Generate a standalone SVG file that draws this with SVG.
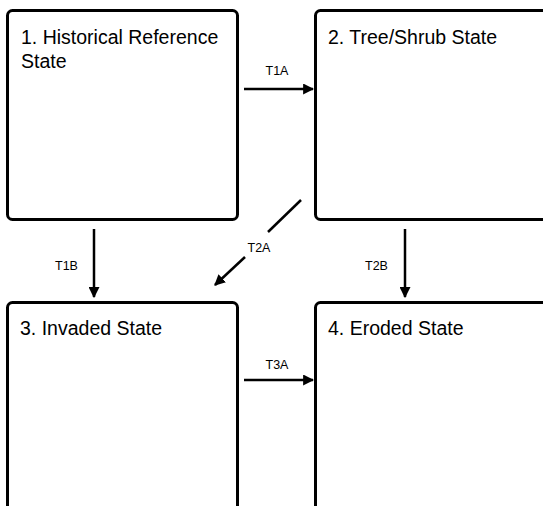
<svg xmlns="http://www.w3.org/2000/svg" width="543" height="506" viewBox="0 0 543 506">
<style>
.box{fill:#fff;stroke:#000;stroke-width:3}
.title{font-family:"Liberation Sans",Arial,sans-serif;font-size:19.5px;fill:#000}
.lbl{font-family:"Liberation Sans",Arial,sans-serif;font-size:12.5px;fill:#000;text-anchor:middle}
.conn{stroke:#000;stroke-width:2.5;fill:none;marker-end:url(#ah)}
</style>
<defs>
<marker id="ah" viewBox="0 0 10 10" refX="9" refY="5" markerWidth="4.4" markerHeight="4.4" orient="auto" markerUnits="strokeWidth">
<path d="M0,0 L10,5 L0,10 z" fill="#000"/>
</marker>
</defs>
<rect width="543" height="506" fill="#fff"/>
<g id="n1"><rect class="box" x="7.5" y="10.5" width="230" height="209" rx="5"/><text class="title" x="21" y="44">1. Historical Reference</text><text class="title" x="21" y="68">State</text></g>
<g id="n2"><rect class="box" x="315.5" y="10.5" width="232" height="209" rx="5"/><text class="title" x="328" y="44">2. Tree/Shrub State</text></g>
<g id="n3"><rect class="box" x="7.5" y="302.5" width="230" height="220" rx="5"/><text class="title" x="20" y="335">3. Invaded State</text></g>
<g id="n4"><rect class="box" x="315.5" y="302.5" width="232" height="220" rx="5"/><text class="title" x="328" y="335">4. Eroded State</text></g>
<g id="connectors">
<line class="conn" x1="244" y1="89" x2="313" y2="89"/>
<text class="lbl" x="277" y="75">T1A</text>
<line class="conn" x1="244" y1="380" x2="313" y2="380"/>
<text class="lbl" x="277" y="369">T3A</text>
<line class="conn" x1="94" y1="229" x2="94" y2="297"/>
<text class="lbl" x="66.5" y="270">T1B</text>
<line class="conn" x1="405" y1="229" x2="405" y2="297"/>
<text class="lbl" x="376.5" y="270">T2B</text>
<line x1="301" y1="200" x2="268" y2="232" stroke="#000" stroke-width="2.5"/>
<line class="conn" x1="245" y1="257" x2="215" y2="285"/>
<text class="lbl" x="259" y="252">T2A</text>
</g>
</svg>
